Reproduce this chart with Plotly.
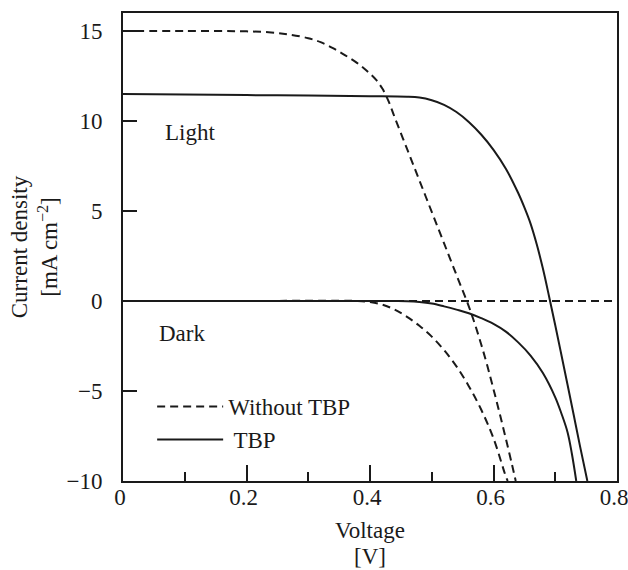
import plotly.graph_objects as go

# J-V curves of dye-sensitized cells, with and without TBP, under light and in the dark
v_light_no_tbp = [0.0, 0.10, 0.20, 0.24, 0.27, 0.30, 0.32, 0.34, 0.36, 0.38, 0.39, 0.40, 0.41,
                  0.42, 0.43, 0.44, 0.46, 0.48, 0.50, 0.52, 0.54, 0.56, 0.57, 0.58, 0.59, 0.60,
                  0.61, 0.62, 0.63, 0.636]
j_light_no_tbp = [15.0, 15.0, 14.98, 14.92, 14.8, 14.6, 14.38, 14.05, 13.65, 13.2, 12.93, 12.63,
                  12.28, 11.8, 11.1, 10.2, 8.45, 6.7, 4.95, 3.2, 1.45, -0.3, -1.3, -2.4, -3.6,
                  -4.9, -6.25, -7.65, -9.1, -10.0]

v_dark_no_tbp = [0.0, 0.20, 0.38, 0.40, 0.42, 0.44, 0.46, 0.48, 0.50, 0.52, 0.54, 0.56,
                 0.58, 0.60, 0.62, 0.623]
j_dark_no_tbp = [0.0, 0.0, 0.0, -0.06, -0.2, -0.48, -0.88, -1.38, -1.98, -2.73, -3.63,
                 -4.73, -6.03, -7.63, -9.75, -10.0]

v_light_tbp = [0.0, 0.10, 0.20, 0.30, 0.40, 0.46, 0.48, 0.50, 0.52, 0.54, 0.56, 0.58, 0.60,
               0.62, 0.64, 0.65, 0.66, 0.67, 0.68, 0.69, 0.70, 0.71, 0.72, 0.73, 0.74, 0.752]
j_light_tbp = [11.5, 11.47, 11.44, 11.41, 11.38, 11.35, 11.3, 11.15, 10.9, 10.5, 9.95, 9.25,
               8.4, 7.35, 6.0, 5.2, 4.3, 3.15, 1.8, 0.25, -1.35, -3.0, -4.67, -6.35, -8.05, -10.0]

v_dark_tbp = [0.0, 0.20, 0.44, 0.46, 0.48, 0.50, 0.52, 0.54, 0.56, 0.58, 0.60, 0.62, 0.64,
              0.66, 0.68, 0.70, 0.71, 0.72, 0.727, 0.734]
j_dark_tbp = [0.0, 0.0, 0.0, -0.01, -0.05, -0.14, -0.3, -0.48, -0.68, -0.95, -1.27, -1.7, -2.3,
              -3.03, -4.0, -5.35, -6.25, -7.3, -8.5, -10.0]

x_ticks = [0, 0.2, 0.4, 0.6, 0.8]
x_tick_text = ["0", "0.2", "0.4", "0.6", "0.8"]
y_ticks = [-10, -5, 0, 5, 10, 15]
y_tick_text = ["\u221210", "\u22125", "0", "5", "10", "15"]

FONT = "Liberation Serif, Times New Roman, serif"
SIZE = 23
INK = "#1a1a1a"
DASH = "8px,5px"

fig = go.Figure()

fig.add_hline(y=0, line=dict(color=INK, width=1.8, dash=DASH), layer="below")

fig.add_trace(go.Scatter(x=v_light_no_tbp, y=j_light_no_tbp, mode="lines", name="Without TBP",
                         legendgroup="no", line=dict(color=INK, width=2, dash=DASH, shape="spline")))
fig.add_trace(go.Scatter(x=v_dark_no_tbp, y=j_dark_no_tbp, mode="lines", name="Without TBP",
                         legendgroup="no", showlegend=False,
                         line=dict(color=INK, width=2, dash=DASH, shape="spline")))
fig.add_trace(go.Scatter(x=v_light_tbp, y=j_light_tbp, mode="lines", name=" TBP",
                         legendgroup="tbp", line=dict(color=INK, width=2, shape="spline")))
fig.add_trace(go.Scatter(x=v_dark_tbp, y=j_dark_tbp, mode="lines", name=" TBP",
                         legendgroup="tbp", showlegend=False,
                         line=dict(color=INK, width=2, shape="spline")))

fig.add_annotation(x=0.065, y=9.35, text="Light", showarrow=False, xanchor="left",
                   font=dict(family=FONT, size=SIZE, color=INK))
fig.add_annotation(x=0.055, y=-1.8, text="Dark", showarrow=False, xanchor="left",
                   font=dict(family=FONT, size=SIZE, color=INK))
# unit line under the x-axis title, set tighter than a <br> would allow
fig.add_annotation(x=0.5, y=0, xref="paper", yref="paper", text="[V]", showarrow=False,
                   xanchor="center", yanchor="top", yshift=-61,
                   font=dict(family=FONT, size=SIZE, color=INK))

fig.update_layout(
    width=628, height=570,
    margin=dict(l=123, r=11, t=13, b=89),
    paper_bgcolor="white", plot_bgcolor="white",
    font=dict(family=FONT, size=SIZE, color=INK),
    showlegend=True,
    legend=dict(x=0.059, y=0.205, xanchor="left", yanchor="top",
                bgcolor="rgba(0,0,0,0)", itemwidth=66, tracegroupgap=0,
                font=dict(family=FONT, size=SIZE, color=INK)),
    xaxis=dict(
        range=[0, 0.8], tickvals=x_ticks, ticktext=x_tick_text,
        ticks="inside", ticklen=16, tickwidth=2, tickcolor=INK,
        minor=dict(ticks="inside", ticklen=9, tickwidth=2, tickcolor=INK, dtick=0.1, tick0=0),
        showline=True, linewidth=2, linecolor=INK, mirror=True,
        showgrid=False, zeroline=False, ticklabelstandoff=-6, ticklabelshift=-3,
        ticklabeloverflow="allow", automargin=False,
        title=dict(text="Voltage", standoff=13, font=dict(family=FONT, size=SIZE, color=INK)),
    ),
    yaxis=dict(
        range=[-10, 16], tickvals=y_ticks, ticktext=y_tick_text,
        ticks="inside", ticklen=14, tickwidth=2, tickcolor=INK,
        showline=True, linewidth=2, linecolor=INK, mirror=True,
        showgrid=False, zeroline=False, ticklabelstandoff=14, automargin=False,
        title=dict(text="Current density<br>[mA cm<sup>\u22122</sup>]", standoff=2,
                   font=dict(family=FONT, size=SIZE, color=INK)),
    ),
)

fig.write_html("out.html")
